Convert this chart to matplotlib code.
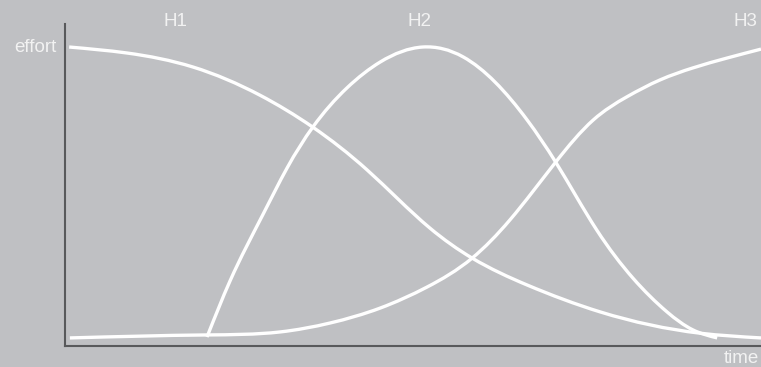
import numpy as np
import matplotlib
matplotlib.use('Agg')
import matplotlib.pyplot as plt
from matplotlib.path import Path
from matplotlib.patches import PathPatch

# values (time 0-100, effort 0-100)
h1_time = [0.6, 8.9, 18.4, 28.0, 35.6, 43.4, 52.4, 58.5, 66.4, 76.9, 91.2, 100.0]
h1_effort = [100.0, 98.0, 93.3, 83.9, 73.2, 58.9, 39.5, 29.4, 20.4, 11.4, 4.3, 2.7]

h2_time = [20.4, 23.7, 28.4, 31.9, 35.6, 40.5, 45.3, 51.4, 57.2, 66.4, 70.5, 76.4, 81.6, 86.5, 90.2, 93.7]
h2_effort = [3.0, 21.7, 43.8, 59.5, 73.2, 86.3, 95.0, 100.0, 96.7, 75.6, 61.5, 38.8, 22.7, 11.4, 5.4, 2.7]

h3_time = [0.7, 20.4, 30.9, 38.1, 45.3, 52.0, 58.5, 63.9, 70.5, 75.9, 80.7, 85.5, 90.2, 95.1, 100.0]
h3_effort = [2.7, 3.7, 4.7, 7.7, 12.7, 19.7, 29.4, 42.1, 61.5, 75.6, 83.3, 89.0, 93.0, 96.3, 99.3]

labels = ['H1', 'H2', 'H3']
label_time = [15.8, 51.0, 97.7]

bg = '#bfc0c3'
fg = '#ffffff'
txt = '#f2f2f2'


def smooth_path(xs, ys):
    # natural cubic spline through the read points, written as bezier segments
    x = np.asarray(xs, float)
    y = np.asarray(ys, float)
    n = len(x)
    h = np.diff(x)
    A = np.zeros((n, n))
    r = np.zeros(n)
    A[0, 0] = A[-1, -1] = 1
    for i in range(1, n - 1):
        A[i, i - 1] = h[i - 1]
        A[i, i] = 2 * (h[i - 1] + h[i])
        A[i, i + 1] = h[i]
        r[i] = 6 * ((y[i + 1] - y[i]) / h[i] - (y[i] - y[i - 1]) / h[i - 1])
    M = np.linalg.solve(A, r)
    verts = [(x[0], y[0])]
    codes = [Path.MOVETO]
    for i in range(n - 1):
        d = (y[i + 1] - y[i]) / h[i]
        m0 = d - h[i] * (2 * M[i] + M[i + 1]) / 6
        m1 = d + h[i] * (M[i] + 2 * M[i + 1]) / 6
        verts += [(x[i] + h[i] / 3, y[i] + m0 * h[i] / 3),
                  (x[i + 1] - h[i] / 3, y[i + 1] - m1 * h[i] / 3),
                  (x[i + 1], y[i + 1])]
        codes += [Path.CURVE4] * 3
    return Path(verts, codes)


plt.rcParams['font.family'] = ['Liberation Sans', 'DejaVu Sans']

fig = plt.figure(figsize=(7.61, 3.67), dpi=100)
fig.patch.set_facecolor(bg)
ax = fig.add_axes([65 / 761, 21 / 367, 696 / 761, 322 / 367])
ax.set_facecolor(bg)

for t, e in [(h1_time, h1_effort), (h2_time, h2_effort), (h3_time, h3_effort)]:
    ax.add_patch(PathPatch(smooth_path(t, e), fill=False, edgecolor=fg, lw=2.4,
                           capstyle='butt', joinstyle='round', clip_on=False))

ax.set_xlim(0, 100)
ax.set_ylim(0, 107.7)
ax.set_xticks([])
ax.set_yticks([])
for s in ['top', 'right']:
    ax.spines[s].set_visible(False)
for s in ['left', 'bottom']:
    ax.spines[s].set_color('#58595b')
    ax.spines[s].set_linewidth(1.5)

ax.text(-1.2, 100, 'effort', ha='right', va='center', color=txt, fontsize=13.5, clip_on=False)
ax.text(94.7, -4.2, 'time', ha='left', va='center', color=txt, fontsize=13.5, clip_on=False)
for lab, t in zip(labels, label_time):
    ax.text(t, 108.6, lab, ha='center', va='center', color=txt, fontsize=13.5, clip_on=False)

fig.savefig('out.png', dpi=100, facecolor=bg)
